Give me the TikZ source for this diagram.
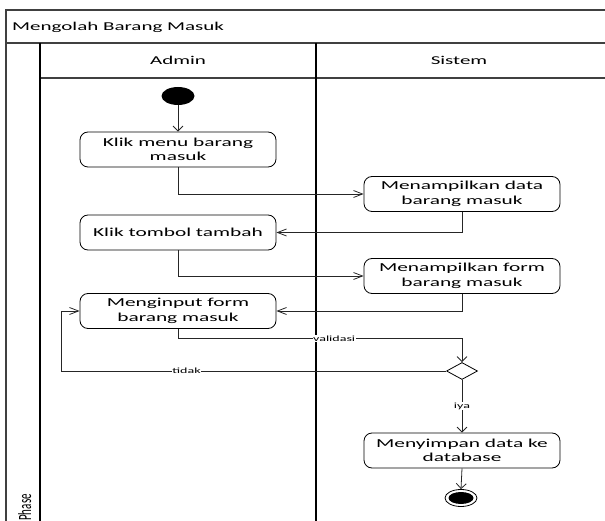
\documentclass[tikz,border=0pt]{standalone}
\usepackage{fontspec}
\setmainfont{Carlito}[FakeStretch=1.75]
\newfontfamily\plainfont{Carlito}
\usetikzlibrary{shapes.geometric,arrows.meta}
\begin{document}
\begin{tikzpicture}[x=1pt,y=-1pt,
  frame/.style={draw=black!75, line width=1.1pt},
  lane/.style={draw=black, line width=1.5pt},
  action/.style={draw=black, line width=0.8pt, rounded corners=8pt,
    minimum width=196pt, minimum height=35pt, align=center, inner sep=0pt,
    font=\fontsize{12.2}{14.4}\selectfont},
  heading/.style={font=\fontsize{12}{14}\selectfont, inner sep=0pt},
  initial/.style={ellipse, fill=black, minimum width=33pt, minimum height=18pt, inner sep=0pt},
  finalout/.style={ellipse, draw=black, line width=0.8pt, fill=white,
    minimum width=32pt, minimum height=17pt, inner sep=0pt},
  finalin/.style={ellipse, fill=black, minimum width=25pt, minimum height=12pt, inner sep=0pt},
  decision/.style={diamond, draw=black, line width=0.8pt, aspect=1.8,
    minimum width=31pt, minimum height=17pt, inner sep=0pt},
  flow/.style={draw=black!85, line width=0.8pt},
  harr/.style={-{Straight Barb[length=9pt,width=7pt]}},
  varr/.style={-{Straight Barb[length=5pt,width=10pt]}},
  guard/.style={fill=white, inner sep=0.6pt, font=\fontsize{8}{9}\selectfont}
]
\clip (0,0) rectangle (605,521);

% swimlane frame
\draw[frame] (6,530) -- (6,10) -- (615,10);
\draw[frame] (6,43) -- (615,43);
\draw[frame] (40,78) -- (615,78);
\draw[lane] (40,43) -- (40,530);
\draw[lane] (316,43) -- (316,530);

\node[heading, anchor=base west] (title) at (12,31) {Mengolah Barang Masuk};
\node[heading] (admin) at (178,60.5) {Admin};
\node[heading] (sistem) at (459,60.5) {Sistem};
\node[rotate=90, anchor=base east, inner sep=0pt,
  font={\plainfont\fontsize{11}{13}\selectfont}] (phase) at (31,494) {\scalebox{1}[1.7]{Phase}};

% activities
\node[initial] (start) at (178,96) {};
\node[action] (menu) at (178,149.5) {Klik menu barang\\masuk};
\node[action] (data) at (462,194) {Menampilkan data\\barang masuk};
\node[action] (tambah) at (178,232.5) {Klik tombol tambah};
\node[action] (form) at (462,276) {Menampilkan form\\barang masuk};
\node[action] (input) at (178,311) {Menginput form\\barang masuk};
\node[decision] (cek) at (462,371) {};
\node[action] (simpan) at (462,450.5) {Menyimpan data ke\\database};
\node[finalout] (stop) at (461,498) {};
\node[finalin] (stopdot) at (stop.center) {};
\coordinate (loop) at (61,371);

% control flow
\draw[flow,varr] (start) -- (menu);
\draw[flow,harr] (menu.south) |- (data.west);
\draw[flow,harr] (data.south) |- (tambah.east);
\draw[flow,harr] (tambah.south) |- (form.west);
\draw[flow,harr] (form.south) |- (input.east);
\draw[flow,varr] (input.south) -- ++(0,9.5) -| node[guard, pos=0.275] {validasi} (cek.north);
\draw[flow,harr] (cek.west) -- node[guard, pos=0.674] {tidak} (loop) |- (input.west);
\draw[flow,varr] (cek.south) -- node[guard] {iya} (simpan.north);
\draw[flow,varr] (simpan.south) -- (stop.north);
\end{tikzpicture}
\end{document}
